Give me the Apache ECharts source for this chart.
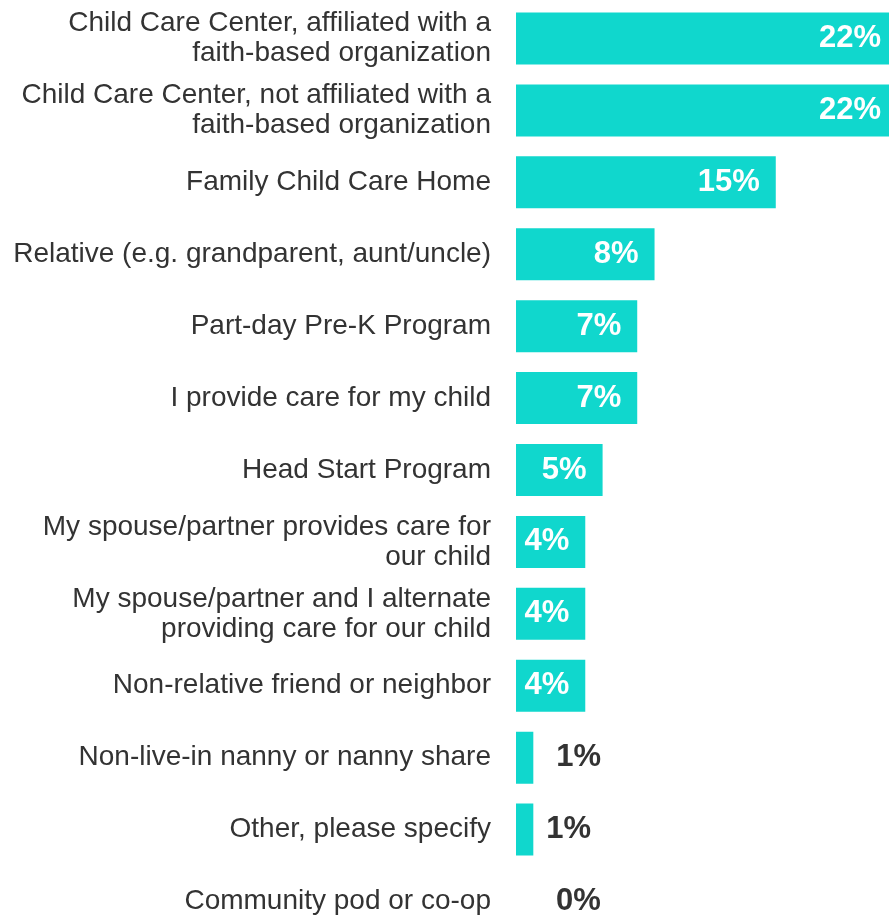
<!DOCTYPE html>
<html>
<head>
<meta charset="utf-8">
<script src="https://cdn.jsdelivr.net/npm/echarts@6/dist/echarts.min.js"></script>
<style>
  html, body { margin: 0; padding: 0; background: #ffffff; }
  #chart { width: 889px; height: 916px; }
</style>
</head>
<body>
<div id="chart"></div>
<script>
const categories = [
  "Child Care Center, affiliated with a\nfaith-based organization",
  "Child Care Center, not affiliated with a\nfaith-based organization",
  "Family Child Care Home",
  "Relative (e.g. grandparent, aunt/uncle)",
  "Part-day Pre-K Program",
  "I provide care for my child",
  "Head Start Program",
  "My spouse/partner provides care for\nour child",
  "My spouse/partner and I alternate\nproviding care for our child",
  "Non-relative friend or neighbor",
  "Non-live-in nanny or nanny share",
  "Other, please specify",
  "Community pod or co-op"
];
const values = [22, 22, 15, 8, 7, 7, 5, 4, 4, 4, 1, 1, 0];

const FONT = '"Liberation Sans", Arial, Helvetica, sans-serif';
// label styling for small bars (drawn outside, in dark text)
const outsideDistance = { 10: 23, 11: 13, 12: 40 };

const seriesData = values.map((v, i) => {
  const item = { value: v };
  if (outsideDistance[i] !== undefined) {
    item.label = {
      position: 'right',
      distance: outsideDistance[i],
      color: '#333333'
    };
  }
  return item;
});

const chart = echarts.init(document.getElementById('chart'), null, { renderer: 'canvas' });
chart.setOption({
  animation: false,
  backgroundColor: '#ffffff',
  grid: {
    left: 516, width: 381, top: 2.5, height: 935,
    containLabel: false,
    outerBoundsMode: 'none'
  },
  xAxis: {
    type: 'value',
    min: 0,
    max: 22,
    show: false
  },
  yAxis: {
    type: 'category',
    inverse: true,
    data: categories,
    axisLine: { show: false },
    axisTick: { show: false },
    splitLine: { show: false },
    axisLabel: {
      margin: 25,
      fontSize: 28,
      lineHeight: 30,
      padding: [4, 0, 0, 0],
      color: '#333333',
      fontFamily: FONT,
      align: 'right'
    }
  },
  series: [{
    type: 'bar',
    data: seriesData,
    barWidth: 52,
    clip: false,
    itemStyle: { color: '#10D7CD' },
    label: {
      show: true,
      position: 'insideRight',
      distance: 16,
      padding: [3, 0, 0, 0],
      color: '#ffffff',
      fontSize: 31,
      fontWeight: 'bold',
      fontFamily: FONT,
      formatter: p => p.value + '%'
    }
  }]
});
</script>
</body>
</html>
